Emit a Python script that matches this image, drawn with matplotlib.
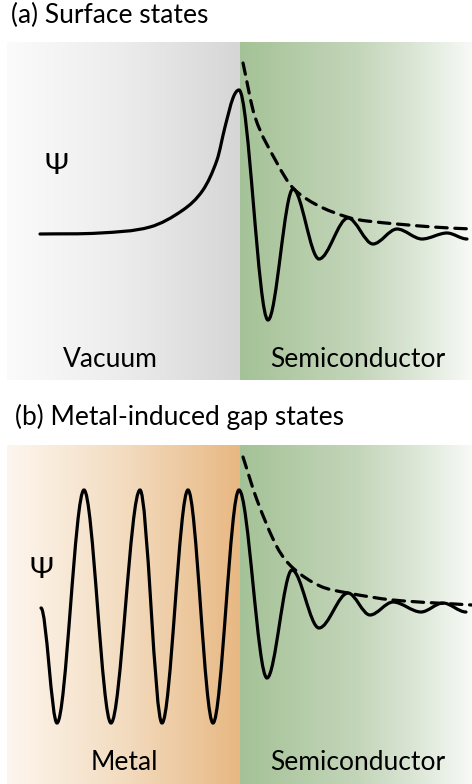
import numpy as np
import matplotlib
matplotlib.use("Agg")
import matplotlib.pyplot as plt
from matplotlib.colors import LinearSegmentedColormap
from matplotlib.path import Path
from matplotlib.patches import PathPatch

plt.rcParams['font.family'] = ['Lato', 'DejaVu Sans']

# wavefunction (a): surface state, turning points read in pixel units
surf_x = [40, 100, 150, 183, 203, 217, 225, 233, 239, 268, 293, 319, 348, 373, 397, 422, 447, 467]
surf_y = [234, 233, 227, 210, 190, 160, 127, 98, 90, 320, 189, 259, 218, 244, 229, 239, 233, 239]
surf_env_x = [243, 255, 277, 293, 317, 347, 367, 433, 472]
surf_env_y = [63, 117, 163, 188, 205, 217, 221, 227, 229]

# wavefunction (b): metal-induced gap state
migs_x = [41, 57, 84, 111, 140, 162, 188, 213, 239, 267, 292, 319, 348, 370, 393, 421, 443, 466]
migs_y = [608, 723, 490, 723, 490, 723, 490, 723, 490, 678, 570, 628, 593, 615, 602, 612, 603, 612]
migs_env_x = [243, 257, 277, 293, 320, 348, 393, 472]
migs_env_y = [457, 500, 547, 568, 586, 593, 600, 605]

W, H = 472, 784
fig = plt.figure(figsize=(W / 100, H / 100), dpi=100)
ax = fig.add_axes([0, 0, 1, 1])
ax.set_xlim(0, W)
ax.set_ylim(H, 0)
ax.axis('off')


def gradient(x0, x1, y0, y1, colors):
    cmap = LinearSegmentedColormap.from_list('g', colors)
    img = cmap(np.linspace(0, 1, 256))[None, :, :]
    ax.imshow(img, extent=(x0, x1, y1, y0), aspect='auto', interpolation='bilinear', zorder=0)


def smooth(xs, ys, **kw):
    # cubic bezier through the points, flat tangent at turning points
    x = np.asarray(xs, float)
    y = np.asarray(ys, float)
    h = np.diff(x)
    d = np.diff(y) / h
    m = np.zeros_like(x)
    for i in range(1, len(x) - 1):
        if d[i - 1] * d[i] > 0:
            m[i] = (y[i + 1] - y[i - 1]) / (x[i + 1] - x[i - 1])
    m[0] = d[0] if len(x) > 2 and d[0] * d[1] > 0 else 0
    m[-1] = d[-1] if len(x) > 2 and d[-1] * d[-2] > 0 else 0
    verts = [(x[0], y[0])]
    codes = [Path.MOVETO]
    for i in range(len(x) - 1):
        dx = h[i] / 3
        verts += [(x[i] + dx, y[i] + m[i] * dx),
                  (x[i + 1] - dx, y[i + 1] - m[i + 1] * dx),
                  (x[i + 1], y[i + 1])]
        codes += [Path.CURVE4] * 3
    ax.add_patch(PathPatch(Path(verts, codes), fill=False, capstyle='round', zorder=3, **kw))


iface = 239.5
green = ['#a4c297', '#b4cca8', '#c3d5b9', '#dbe6d5', '#f8faf7']

# panel (a) backgrounds
gradient(7, iface, 42, 380, ['#fbfbfb', '#ececec', '#d6d6d6'])
gradient(iface, W, 42, 380, green)
# panel (b) backgrounds
gradient(7, iface, 445, H, ['#fdf6ee', '#f3dcc0', '#e8b883'])
gradient(iface, W, 445, H, green)

lw = 2.3
smooth(surf_x, surf_y, color='black', lw=lw)
smooth(surf_env_x, surf_env_y, color='black', lw=lw, linestyle=(0, (3.6, 2.4)))
smooth(migs_x, migs_y, color='black', lw=lw)
smooth(migs_env_x, migs_env_y, color='black', lw=lw, linestyle=(0, (3.6, 2.4)))

fs = 19
ax.text(11, 15, '(a) Surface states', fontsize=fs, ha='left', va='center')
ax.text(15, 417, '(b) Metal-induced gap states', fontsize=fs, ha='left', va='center')
ax.text(56, 166, 'Ψ', fontsize=21, ha='center', va='center')
ax.text(41, 570, 'Ψ', fontsize=21, ha='center', va='center')
ax.text(110, 359, 'Vacuum', fontsize=fs, ha='center', va='center')
ax.text(358, 359, 'Semiconductor', fontsize=fs, ha='center', va='center')
ax.text(124, 762, 'Metal', fontsize=fs, ha='center', va='center')
ax.text(358, 762, 'Semiconductor', fontsize=fs, ha='center', va='center')

fig.savefig('out.png', dpi=100)
